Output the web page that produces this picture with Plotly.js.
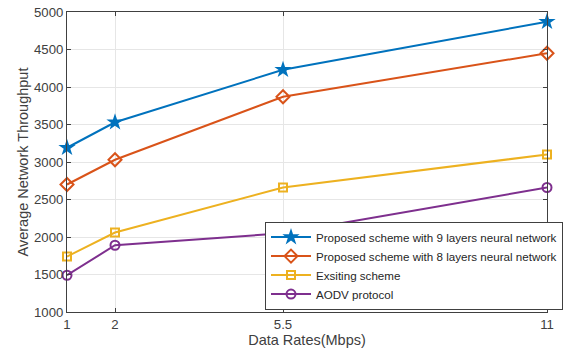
<!DOCTYPE html>
<html>
<head>
<meta charset="utf-8">
<script src="https://cdn.plot.ly/plotly-3.0.1.min.js"></script>
<style>
  html, body { margin: 0; padding: 0; background: #fff; }
  #chart { width: 569px; height: 356px; }
</style>
</head>
<body>
<div id="chart"></div>
<script>
// Data rates (Mbps) on the x axis
const dataRates = [1, 2, 5.5, 11];

// Average network throughput for each scheme
const proposed9 = [3190, 3530, 4230, 4870];
const proposed8 = [2700, 3030, 3870, 4450];
const existing  = [1740, 2060, 2660, 3100];
const aodv      = [1490, 1890, 2050, 2660];

const seriesNames = [
  'Proposed scheme with 9 layers neural network',
  'Proposed scheme with 8 layers neural network',
  'Exsiting scheme',
  'AODV protocol'
];

const xTicks = [1, 2, 5.5, 11];
const yTicks = [1000, 1500, 2000, 2500, 3000, 3500, 4000, 4500, 5000];

const colors = ['#0072BD', '#D95319', '#EDB120', '#7E2F8E'];
const symbols = ['star', 'diamond-open', 'square-open', 'circle-open'];
const sizes = [13, 10, 8, 9];
const values = [proposed9, proposed8, existing, aodv];

const traces = values.map((ys, i) => ({
  x: dataRates,
  y: ys,
  name: seriesNames[i],
  type: 'scatter',
  mode: 'lines+markers',
  cliponaxis: false,
  line: { color: colors[i], width: 2 },
  marker: {
    symbol: symbols[i],
    size: sizes[i],
    color: colors[i],
    line: { color: colors[i], width: i === 0 ? 0 : 2 }
  }
}));

const fontFamily = 'Arial, Liberation Sans, sans-serif';
const tickFont = { family: fontFamily, size: 13.2, color: '#404040' };
const titleFont = { family: fontFamily, size: 14.5, color: '#404040' };

const axisCommon = {
  showgrid: true,
  gridcolor: '#e6e6e6',
  gridwidth: 1,
  showline: true,
  linecolor: '#404040',
  linewidth: 1,
  mirror: 'ticks',
  ticks: 'inside',
  ticklen: 4,
  tickcolor: '#404040',
  zeroline: false,
  automargin: false,
  tickfont: tickFont
};

const layout = {
  width: 569,
  height: 356,
  margin: { l: 67, r: 22, t: 12, b: 44, autoexpand: false },
  paper_bgcolor: '#ffffff',
  plot_bgcolor: '#ffffff',
  showlegend: true,
  xaxis: Object.assign({}, axisCommon, {
    range: [1, 11],
    tickvals: xTicks,
    ticktext: xTicks.map(String),
    title: { text: 'Data Rates(Mbps)', standoff: 4, font: titleFont }
  }),
  yaxis: Object.assign({}, axisCommon, {
    range: [1000, 5000],
    tickvals: yTicks,
    ticktext: yTicks.map(String),
    title: { text: 'Average Network Throughput', standoff: 1, font: titleFont }
  }),
  legend: {
    x: 0.4125,
    y: 0.008,
    xanchor: 'left',
    yanchor: 'bottom',
    bgcolor: '#ffffff',
    bordercolor: '#404040',
    borderwidth: 1,
    tracegroupgap: 0,
    itemwidth: 40,
    font: { family: fontFamily, size: 11.6, color: '#262626' }
  }
};

Plotly.newPlot('chart', traces, layout, { displayModeBar: false, staticPlot: true });
</script>
</body>
</html>
